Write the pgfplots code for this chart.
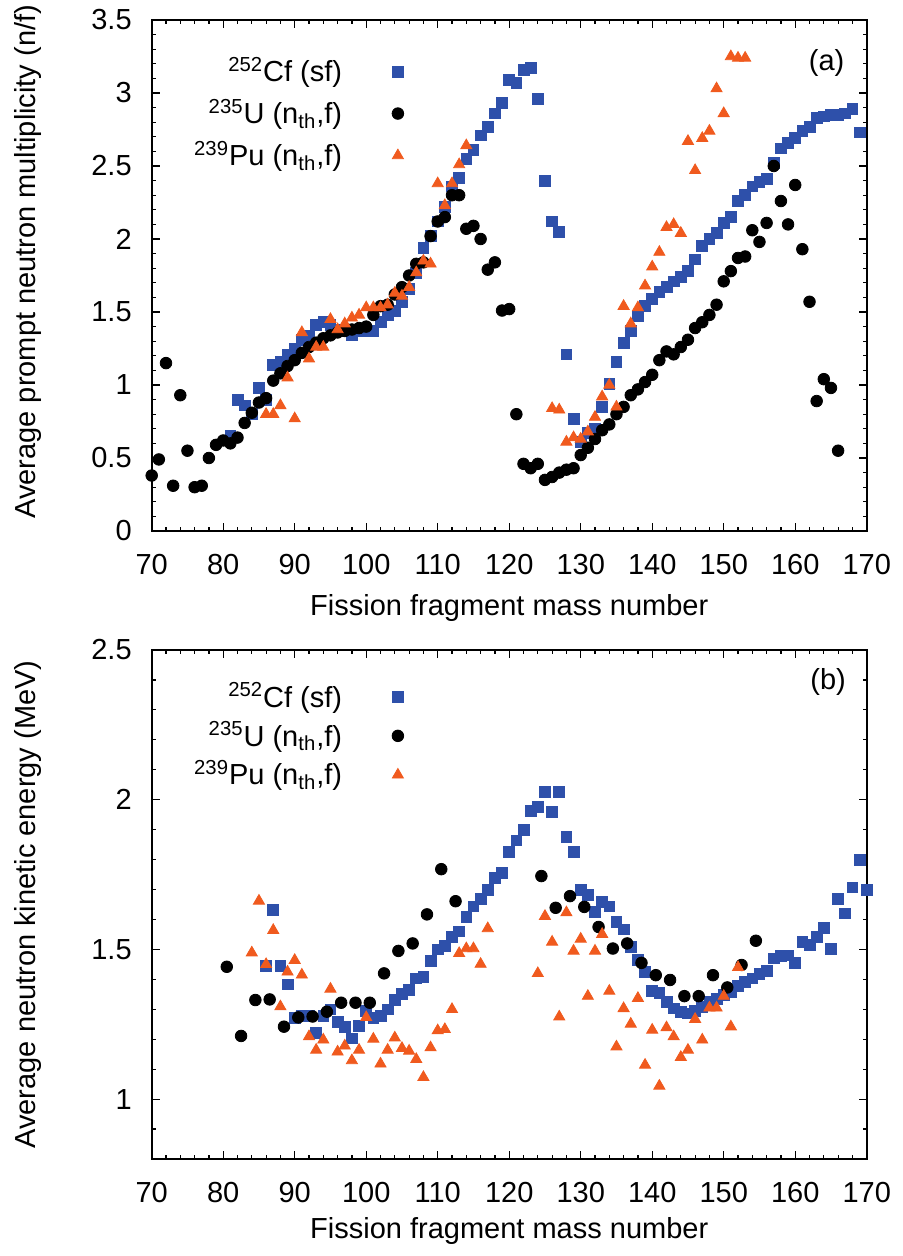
\documentclass[border=0pt]{standalone}
\usepackage{fontspec}
\setmainfont{Liberation Sans}
\usepackage{pgfplots}
\pgfplotsset{compat=1.18}
\definecolor{cfblue}{RGB}{46,80,170}
\definecolor{puorange}{RGB}{240,90,30}
\pgfplotsset{
  fragpanel/.style={
    scale only axis, width=357.5pt,
    xmin=70, xmax=170, xtick={70,80,...,170}, minor xtick={70,72,...,170},
    tick align=inside, major tick length=4pt, minor tick length=2pt,
    axis line style={line width=0.9pt}, tick style={line width=0.6pt, black},
    /pgf/number format/assume math mode=true,
    clip=false,
    xlabel={Fission fragment mass number},
    yticklabel style={xshift=-5pt}, xticklabel style={yshift=-6.5pt},
    legend plot pos=right, legend cell align=right,
    legend style={draw=none, fill=none, anchor=north east, column sep=23pt, inner sep=0pt},
  },
  cf/.style={only marks, mark=square*, mark size=2.7pt, color=cfblue},
  uu/.style={only marks, mark=*, mark size=2.9pt, color=black},
  pu/.style={only marks, mark=triangle*, mark size=3.2pt, color=puorange},
}
\begin{document}
\fontsize{14.5}{17}\selectfont
\begin{tikzpicture}
\path[use as bounding box] (-75.85pt,10pt) rectangle (375.15pt,-618pt);
% ---- panel (a): multiplicity
\begin{axis}[fragpanel, at={(0,0)}, anchor=north west, height=255.5pt,
  ymin=0, ymax=3.5, ytick={0,0.5,...,3.5}, minor ytick={0,0.1,...,3.5},
  ylabel={Average prompt neutron multiplicity (n/f)},
  ylabel style={at={(axis description cs:-0.173,0.527)}, anchor=center},
  xlabel style={at={(axis description cs:0.5,0)}, anchor=center, yshift=-38.5pt},
  legend style={at={(axis description cs:0.353,0.936)}, row sep=2.5pt}]
\addplot[cf] table {
81 0.65
82 0.90
83 0.86
84 0.80
85 0.98
86 0.90
87 1.14
88 1.16
89 1.21
90 1.25
91 1.31
92 1.34
93 1.41
94 1.43
95 1.41
96 1.38
97 1.37
98 1.34
99 1.37
100 1.37
101 1.37
102 1.43
103 1.48
104 1.51
105 1.57
106 1.66
107 1.77
108 1.94
109 2.02
110 2.12
111 2.22
112 2.36
113 2.42
114 2.55
115 2.61
116 2.71
117 2.77
118 2.86
119 2.93
120 3.09
121 3.07
122 3.16
123 3.17
124 2.96
125 2.40
126 2.12
127 2.05
128 1.21
129 0.77
130 0.61
131 0.67
132 0.70
133 0.85
134 1.01
135 1.16
136 1.29
137 1.37
138 1.47
139 1.54
140 1.59
141 1.64
142 1.67
143 1.71
144 1.74
145 1.78
146 1.86
147 1.95
148 2.00
149 2.04
150 2.11
151 2.15
152 2.26
153 2.30
154 2.36
155 2.39
156 2.41
157 2.52
158 2.62
159 2.66
160 2.69
161 2.74
162 2.77
163 2.83
164 2.84
165 2.85
166 2.85
167 2.86
168 2.89
169 2.73
};
\addlegendentry{\textsuperscript{252}Cf (sf)}
\addplot[uu] table {
70 0.38
71 0.49
72 1.15
73 0.31
74 0.93
75 0.55
76 0.30
77 0.31
78 0.50
79 0.59
80 0.62
81 0.60
82 0.64
83 0.74
84 0.81
85 0.88
86 0.91
87 1.03
88 1.08
89 1.13
90 1.17
91 1.22
92 1.26
93 1.29
94 1.32
95 1.34
96 1.36
97 1.37
98 1.38
99 1.39
100 1.40
101 1.48
102 1.54
103 1.55
104 1.62
105 1.67
106 1.75
107 1.83
108 1.84
109 2.02
110 2.12
111 2.15
112 2.30
113 2.30
114 2.07
115 2.09
116 2.00
117 1.79
118 1.84
119 1.51
120 1.52
121 0.80
122 0.46
123 0.43
124 0.46
125 0.35
126 0.37
127 0.40
128 0.42
129 0.43
130 0.52
131 0.57
132 0.63
133 0.69
134 0.73
135 0.80
136 0.85
137 0.93
138 0.97
139 1.02
140 1.07
141 1.17
142 1.23
143 1.21
144 1.26
145 1.31
146 1.39
147 1.43
148 1.48
149 1.55
150 1.71
151 1.78
152 1.87
153 1.88
154 2.06
155 1.98
156 2.11
157 2.50
158 2.26
159 2.10
160 2.37
161 1.93
162 1.57
163 0.89
164 1.04
165 0.98
166 0.55
};
\addlegendentry{\textsuperscript{235}U (n\textsubscript{th},f)}
\addplot[pu] table {
86 0.80
87 0.80
88 0.86
89 1.05
90 0.77
91 1.36
92 1.18
93 1.26
94 1.26
95 1.45
96 1.38
97 1.42
98 1.46
99 1.48
100 1.53
101 1.53
102 1.53
103 1.55
104 1.63
105 1.61
106 1.67
107 1.77
108 1.85
109 1.83
110 2.38
111 2.23
112 2.38
113 2.51
114 2.64
126 0.84
127 0.83
128 0.61
129 0.64
130 0.63
131 0.68
132 0.78
133 0.92
134 1.00
135 0.85
136 1.54
137 1.42
138 1.53
139 1.68
140 1.81
141 1.91
142 2.08
143 2.10
144 2.04
145 2.67
146 2.47
147 2.69
148 2.74
149 3.03
150 2.86
151 3.25
152 3.24
153 3.24
};
\addlegendentry{\textsuperscript{239}Pu (n\textsubscript{th},f)}
\node at (rel axis cs:0.944,0.916) {(a)};
\end{axis}
% ---- panel (b): kinetic energy
\begin{axis}[fragpanel, at={(0,-315pt)}, anchor=north west, height=254.5pt,
  ymin=0.8, ymax=2.5, ytick={1,1.5,2,2.5}, minor ytick={0.8,0.9,...,2.5},
  ylabel={Average neutron kinetic energy (MeV)},
  ylabel style={at={(axis description cs:-0.173,0.5)}, anchor=center},
  xlabel style={at={(axis description cs:0.5,0)}, anchor=center, yshift=-36pt},
  legend style={at={(axis description cs:0.353,0.945)}, row sep=1pt}]
\addplot[cf] table {
86 1.445
87 1.633
88 1.445
89 1.383
90 1.270
91 1.278
92 1.278
93 1.220
94 1.278
95 1.300
96 1.259
97 1.242
98 1.203
99 1.245
100 1.295
101 1.270
102 1.278
103 1.300
104 1.331
105 1.351
106 1.365
107 1.403
108 1.409
109 1.462
110 1.500
111 1.511
112 1.542
113 1.560
114 1.609
115 1.644
116 1.670
117 1.698
118 1.740
119 1.755
120 1.825
121 1.864
122 1.900
123 1.962
124 1.976
125 2.025
126 1.959
127 2.025
128 1.875
129 1.825
130 1.700
131 1.681
132 1.625
133 1.659
134 1.644
135 1.592
136 1.567
137 1.509
138 1.464
139 1.425
140 1.362
141 1.355
142 1.325
143 1.303
144 1.292
145 1.286
146 1.295
147 1.309
148 1.325
149 1.336
150 1.348
151 1.359
152 1.378
153 1.392
154 1.403
155 1.418
156 1.429
157 1.470
158 1.478
159 1.480
160 1.456
161 1.525
162 1.514
163 1.542
164 1.573
165 1.503
166 1.670
167 1.620
168 1.707
169 1.800
170 1.700
};
\addlegendentry{\textsuperscript{252}Cf (sf)}
\addplot[uu] table {
80.5 1.442
82.5 1.211
84.5 1.331
86.5 1.333
88.5 1.242
90.5 1.273
92.5 1.276
94.5 1.292
96.5 1.322
98.5 1.322
100.5 1.322
102.5 1.420
104.5 1.495
106.5 1.520
108.5 1.617
110.5 1.768
112.5 1.661
124.5 1.745
126.5 1.639
128.5 1.678
130.5 1.642
132.5 1.575
134.5 1.503
136.5 1.520
138.5 1.455
140.5 1.414
142.5 1.398
144.5 1.344
146.5 1.344
148.5 1.414
150.5 1.373
152.5 1.448
154.5 1.529
};
\addlegendentry{\textsuperscript{235}U (n\textsubscript{th},f)}
\addplot[pu] table {
84 1.489
85 1.662
86 1.450
87 1.564
88 1.309
89 1.425
90 1.464
91 1.415
92 1.209
93 1.164
94 1.198
95 1.368
96 1.158
97 1.178
98 1.129
99 1.164
100 1.273
101 1.201
102 1.118
103 1.164
104 1.205
105 1.170
106 1.161
107 1.133
108 1.073
109 1.172
110 1.229
111 1.233
112 1.300
113 1.487
114 1.503
115 1.503
116 1.451
117 1.570
124 1.420
125 1.611
126 1.525
127 1.275
128 1.623
129 1.495
130 1.535
131 1.344
132 1.495
133 1.551
134 1.361
135 1.175
136 1.303
137 1.251
138 1.337
139 1.114
140 1.231
141 1.044
142 1.239
143 1.209
144 1.140
145 1.164
146 1.267
147 1.198
148 1.305
149 1.305
150 1.344
151 1.242
152 1.440
};
\addlegendentry{\textsuperscript{239}Pu (n\textsubscript{th},f)}
\node at (rel axis cs:0.946,0.938) {(b)};
\end{axis}
\end{tikzpicture}
\end{document}
